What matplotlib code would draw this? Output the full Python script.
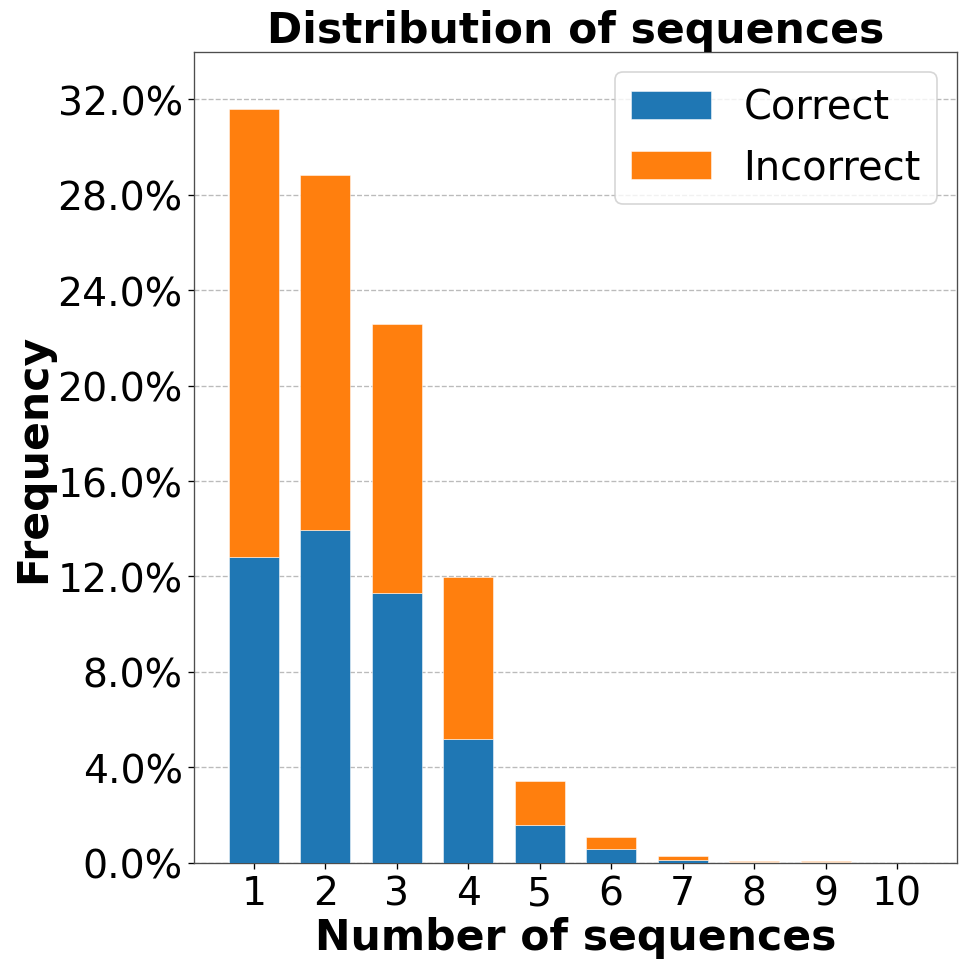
import matplotlib
matplotlib.use("Agg")
import matplotlib.pyplot as plt
from matplotlib.ticker import FuncFormatter

categories = [1, 2, 3, 4, 5, 6, 7, 8, 9, 10]
correct = [12.8, 13.95, 11.3, 5.17, 1.59, 0.59, 0.11, 0.015, 0.01, 0.0]
total = [31.6, 28.82, 22.6, 11.97, 3.42, 1.09, 0.28, 0.08, 0.06, 0.0]
incorrect = [t - c for t, c in zip(total, correct)]
yticks = [0, 4, 8, 12, 16, 20, 24, 28, 32]

fig = plt.figure(figsize=(969 / 120, 969 / 120), dpi=120)
ax = fig.add_axes([194.3 / 969, 1 - 863.7 / 969, (956.7 - 194.3) / 969, (863.7 - 52.7) / 969])

ax.bar(categories, correct, width=0.7, color="#1f77b4", edgecolor="white", linewidth=0.3, label="Correct", zorder=3)
ax.bar(categories, incorrect, width=0.7, bottom=correct, color="#ff7f0e", edgecolor="white", linewidth=0.3, label="Incorrect", zorder=3)

ax.set_ylim(0, 34)
ax.set_yticks(yticks)
ax.yaxis.set_major_formatter(FuncFormatter(lambda v, p: f"{v:.1f}%"))
ax.set_xticks(categories)
ax.tick_params(labelsize=23.6)
ax.grid(axis="y", linestyle="--", color="#bbbbbb", linewidth=0.8, zorder=0)
ax.set_axisbelow(True)
for s in ax.spines.values():
    s.set_color("0.3")

ax.set_title("Distribution of sequences", fontsize=25.5, fontweight="bold")
ax.set_xlabel("Number of sequences", fontsize=25.5, fontweight="bold", labelpad=2)
ax.set_ylabel("Frequency", fontsize=25.5, fontweight="bold", labelpad=2)
ax.legend(fontsize=24, loc="upper right")

fig.savefig("out.png", dpi=120)
